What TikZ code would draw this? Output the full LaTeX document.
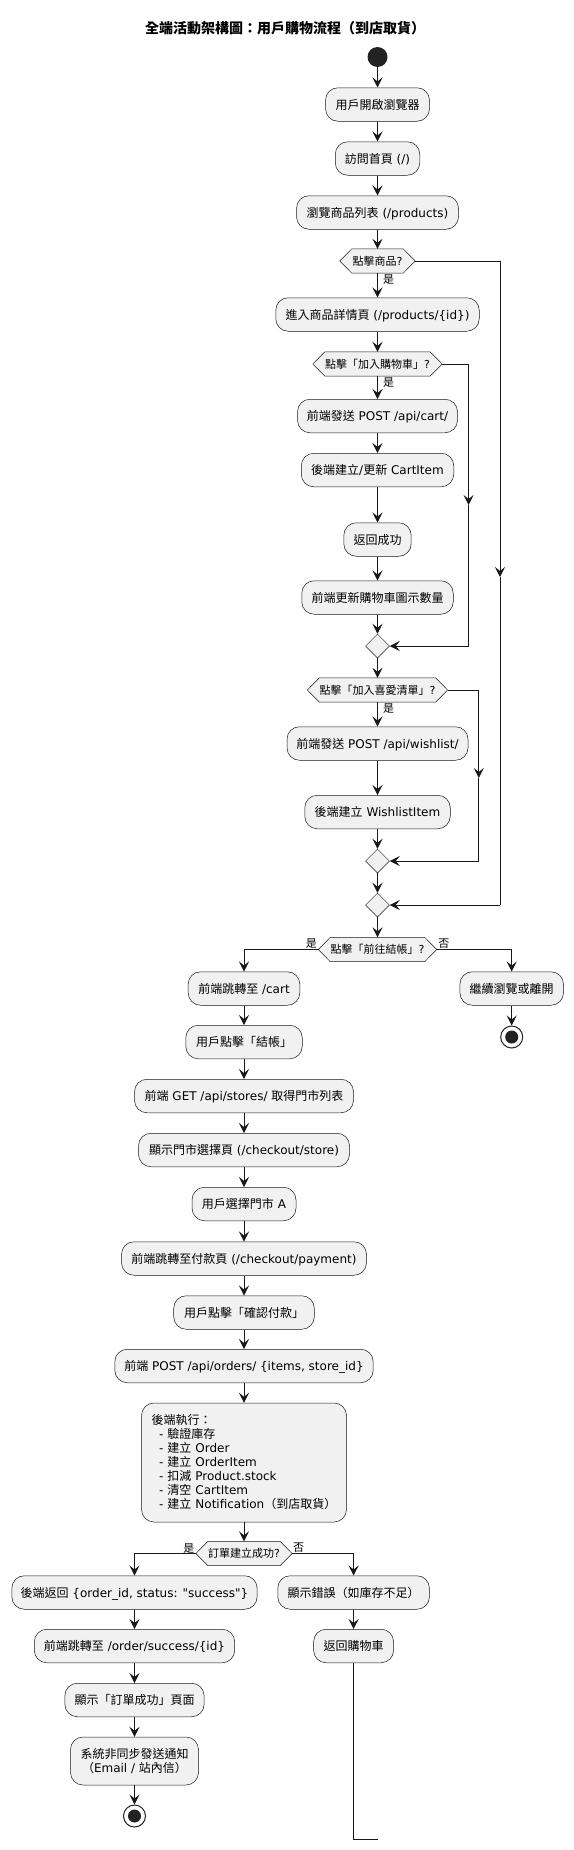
\documentclass[tikz,border=0pt]{standalone}
\usepackage{fontspec}
\setmainfont{DejaVu Sans}
\newfontfamily\cjkfont{Noto Sans CJK TC}
\newcommand\zh[1]{{\cjkfont #1}}
\newcommand\dq{\XeTeXglyph\XeTeXcharglyph"22\relax}
\usetikzlibrary{arrows.meta,shapes.geometric,calc,backgrounds}
\definecolor{boxfill}{HTML}{F1F1F1}
\definecolor{lc}{HTML}{181818}
\definecolor{dotc}{HTML}{222222}
\newcommand\hexnode[5]{%
  \node[dtext, minimum width=#4pt] (#1) at (#2,#3) {#5};
  \begin{scope}[on background layer]
    \path[dshape] ($(#1.west)+(-12,0)$) -- (#1.north west) -- (#1.north east) -- ($(#1.east)+(12,0)$) -- (#1.south east) -- (#1.south west) -- cycle;
  \end{scope}
  \coordinate (#1l) at ($(#1.west)+(-12,0)$);
  \coordinate (#1r) at ($(#1.east)+(12,0)$);
}
\begin{document}
\begin{tikzpicture}[x=1pt,y=-1pt,
  actbase/.style={draw=lc, line width=0.5pt, fill=boxfill, rounded corners=12.5pt, minimum height=33.5pt, inner xsep=3pt, inner ysep=0pt, font=\fontsize{12}{14}\selectfont},
  act/.style={actbase, text height=10pt, text depth=1pt},
  dtext/.style={inner sep=0pt, minimum height=24pt, font=\fontsize{11}{13}\selectfont, text height=9.2pt, text depth=0.9pt},
  dshape/.style={draw=lc, line width=0.5pt, fill=boxfill},
  merge/.style={diamond, draw=lc, line width=0.5pt, fill=boxfill, minimum width=24pt, minimum height=24pt, inner sep=0pt},
  arr/.style={draw=lc, line width=1pt, -{Stealth[length=10pt,width=10pt,inset=4pt]}},
  wire/.style={draw=lc, line width=1pt},
  lbl/.style={inner sep=0pt, font=\fontsize{11}{13}\selectfont, text height=9pt, text depth=1pt},
  startc/.style={circle, fill=dotc, minimum size=20pt, inner sep=0pt},
  stopc/.style={circle, draw=dotc, line width=1pt, fill=white, minimum size=22pt, inner sep=0pt},
]
\begin{scope}[on background layer]
\fill[white] (0,0) rectangle (573,1850);
\end{scope}
\useasboundingbox (0,0) rectangle (573,1850);

\node[font=\fontsize{14}{16}\selectfont] (title) at (285,28) {{\cjkfont\bfseries 全端活動架構圖：用戶購物流程（到店取貨）}};

\node[startc] (st) at (377.5,57) {};
\node[act, minimum width=104pt] (b1) at (377.5,104.5) {\zh{用戶開啟瀏覽器}};
\node[act, minimum width=84.5pt] (b2) at (377.5,158.5) {\zh{訪問首頁} (/)};
\node[act, minimum width=162pt] (b3) at (377.5,212.5) {\zh{瀏覽商品列表} (/products)};
\hexnode{d1}{377.5}{261}{51}{\zh{點擊商品}?}
\node[act, minimum width=203.5pt] (b4) at (377.5,314.5) {\zh{進入商品詳情頁} (/products/\{id\})};
\hexnode{d2}{377.5}{364}{104.4}{\zh{點擊「加入購物車」}?}
\node[act, minimum width=160pt] (b5) at (377.5,416) {\zh{前端發送} POST /api/cart/};
\node[act, minimum width=152.5pt] (b6) at (377.5,470) {\zh{後端建立}/\zh{更新} CartItem};
\node[act, minimum width=67.4pt] (b7) at (377.5,539.5) {\zh{返回成功}};
\node[act, minimum width=151.5pt] (b8) at (377.5,597.5) {\zh{前端更新購物車圖示數量}};
\node[merge] (m1) at (377.5,646) {};
\hexnode{d3}{377.5}{690}{115}{\zh{點擊「加入喜愛清單」}?}
\node[act, minimum width=181pt] (b9) at (377.5,743.5) {\zh{前端發送} POST /api/wishlist/};
\node[act, minimum width=145.5pt] (b10) at (377.5,812) {\zh{後端建立} WishlistItem};
\node[merge] (m2) at (377.5,861) {};
\node[merge] (m3) at (377.5,905) {};
\hexnode{d4}{377.5}{949.5}{94}{\zh{點擊「前往結帳」}?}
\node[act, minimum width=111.7pt] (b11) at (244,988.5) {\zh{前端跳轉至} /cart};
\node[act, minimum width=103.6pt] (bx) at (511.7,988.5) {\zh{繼續瀏覽或離開}};
\node[stopc] (e1) at (511.7,1037) {};
\fill[dotc] (e1.center) circle[radius=6.5pt];
\node[act, minimum width=116.5pt] (b12) at (244,1042) {\zh{用戶點擊「結帳」}};
\node[act, minimum width=219pt] (b13) at (244,1096) {\zh{前端} GET /api/stores/ \zh{取得門市列表}};
\node[act, minimum width=211pt] (b14) at (244,1150) {\zh{顯示門市選擇頁} (/checkout/store)};
\node[act, minimum width=104pt] (b15) at (244,1204) {\zh{用戶選擇門市} A};
\node[act, minimum width=245pt] (b16) at (244,1258.5) {\zh{前端跳轉至付款頁} (/checkout/payment)};
\node[act, minimum width=140.6pt] (b17) at (244,1312.5) {\zh{用戶點擊「確認付款」}};
\node[act, minimum width=258.4pt] (b18) at (244,1366) {\zh{前端} POST /api/orders/ \{items, store\_id\}};
\node[actbase, minimum height=119pt, text width=185pt, inner xsep=10pt, align=left] (b19) at (244,1462.5) {\zh{後端執行：}\\
\hspace*{7.6pt}- \zh{驗證庫存}\\
\hspace*{7.6pt}- \zh{建立} Order\\
\hspace*{7.6pt}- \zh{建立} OrderItem\\
\hspace*{7.6pt}- \zh{扣減} Product.stock\\
\hspace*{7.6pt}- \zh{清空} CartItem\\
\hspace*{7.6pt}- \zh{建立} Notification\zh{（到店取貨）}};
\hexnode{d5}{244}{1553.5}{71}{\zh{訂單建立成功}?}
\node[act, minimum width=245.3pt] (b20) at (134.5,1592.5) {\zh{後端返回} \{order\_id, status: \dq success\dq\}};
\node[act, minimum width=151.7pt] (b21) at (353.6,1592.5) {\zh{顯示錯誤（如庫存不足）}};
\node[act, minimum width=200.4pt] (b22) at (134.5,1646) {\zh{前端跳轉至} /order/success/\{id\}};
\node[act, minimum width=80pt] (b23) at (353.6,1646) {\zh{返回購物車}};
\node[act, minimum width=139.3pt] (b24) at (134.5,1700) {\zh{顯示「訂單成功」頁面}};
\node[actbase, minimum width=128pt, minimum height=48pt, align=center] (b25) at (134.5,1761) {\zh{系統非同步發送通知}\\\zh{（}Email / \zh{站內信）}};
\node[stopc] (e2) at (134.5,1816) {};
\fill[dotc] (e2.center) circle[radius=6.5pt];

% coordinates for bends
\coordinate (k1a) at (500,261);
\coordinate (k1m) at (500,577);
\coordinate (k1b) at (500,905);
\coordinate (k2a) at (468.6,364);
\coordinate (k2m) at (468.6,505);
\coordinate (k2b) at (468.6,646);
\coordinate (k3a) at (478.8,690);
\coordinate (k3m) at (478.8,778);
\coordinate (k3b) at (478.8,861);
\coordinate (jend) at (377.5,1839);

% main column
\draw[arr] (st.south) -- (b1.north);
\draw[arr] (b1) -- (b2);
\draw[arr] (b2) -- (b3);
\draw[arr] (b3.south) -- (d1.north);
\draw[arr] (d1.south) -- node[lbl, pos=0, anchor=west, xshift=5pt, yshift=-6pt] {\zh{是}} (b4.north);
\draw[wire] (d1r) -- (k1a);
\draw[arr] (k1a) -- (k1m);
\draw[wire] (k1m) -- (k1b);
\draw[arr] (k1b) -- (m3.east);
\draw[arr] (b4.south) -- (d2.north);
\draw[arr] (d2.south) -- node[lbl, pos=0, anchor=west, xshift=5pt, yshift=-6pt] {\zh{是}} (b5.north);
\draw[wire] (d2r) -- (k2a);
\draw[arr] (k2a) -- (k2m);
\draw[wire] (k2m) -- (k2b);
\draw[arr] (k2b) -- (m1.east);
\draw[arr] (b5) -- (b6);
\draw[arr] (b6) -- (b7);
\draw[arr] (b7) -- (b8);
\draw[arr] (b8.south) -- (m1.north);
\draw[arr] (m1.south) -- (d3.north);
\draw[arr] (d3.south) -- node[lbl, pos=0, anchor=west, xshift=5pt, yshift=-6.5pt] {\zh{是}} (b9.north);
\draw[wire] (d3r) -- (k3a);
\draw[arr] (k3a) -- (k3m);
\draw[wire] (k3m) -- (k3b);
\draw[arr] (k3b) -- (m2.east);
\draw[arr] (b9) -- (b10);
\draw[arr] (b10.south) -- (m2.north);
\draw[arr] (m2.south) -- (m3.north);
\draw[arr] (m3.south) -- (d4.north);
\draw[arr] (d4l) -| node[lbl, pos=0, anchor=east, xshift=-1pt, yshift=6pt] {\zh{是}} (b11.north);
\draw[arr] (d4r) -| node[lbl, pos=0, anchor=west, xshift=1.2pt, yshift=6pt] {\zh{否}} (bx.north);
\draw[arr] (bx.south) -- (e1.north);

% checkout column
\draw[arr] (b11) -- (b12);
\draw[arr] (b12) -- (b13);
\draw[arr] (b13) -- (b14);
\draw[arr] (b14) -- (b15);
\draw[arr] (b15) -- (b16);
\draw[arr] (b16) -- (b17);
\draw[arr] (b17) -- (b18);
\draw[arr] (b18) -- (b19);
\draw[arr] (b19.south) -- (d5.north);
\draw[arr] (d5l) -| node[lbl, pos=0, anchor=east, xshift=-1pt, yshift=5.5pt] {\zh{是}} (b20.north);
\draw[arr] (d5r) -| node[lbl, pos=0, anchor=west, xshift=0.5pt, yshift=6pt] {\zh{否}} (b21.north);
\draw[arr] (b20) -- (b22);
\draw[arr] (b22) -- (b24);
\draw[arr] (b24) -- (b25);
\draw[arr] (b25.south) -- (e2.north);
\draw[arr] (b21) -- (b23);
\draw[wire] (b23.south) |- (jend);
\end{tikzpicture}
\end{document}
